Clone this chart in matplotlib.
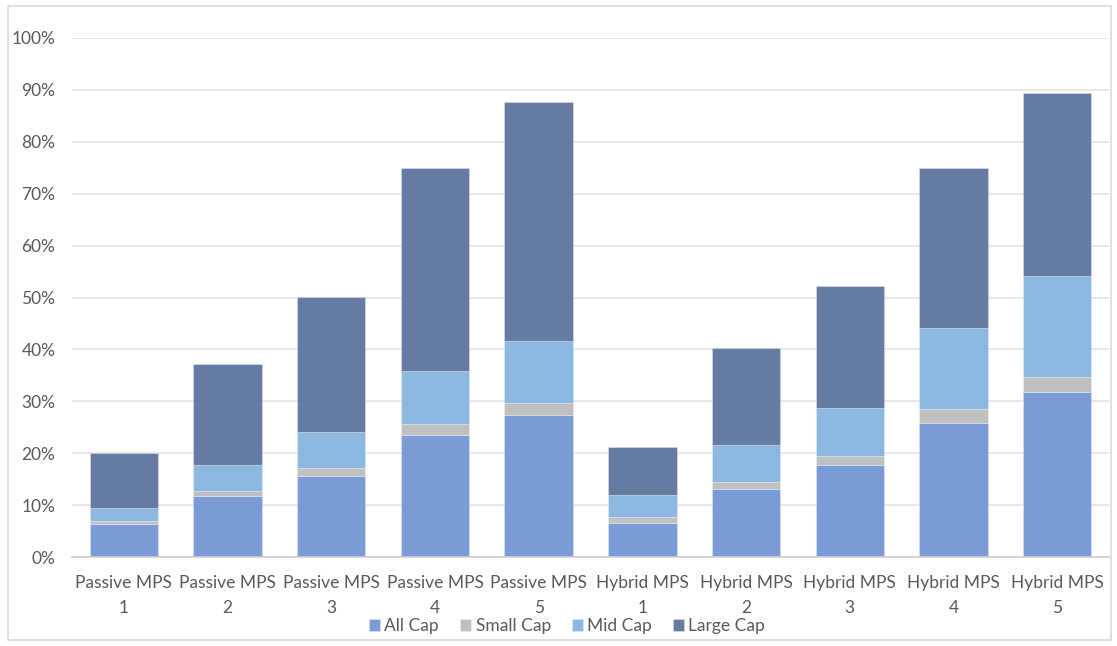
import matplotlib.pyplot as plt
import numpy as np
from matplotlib.patches import Rectangle
from matplotlib.ticker import FuncFormatter

categories = ["Passive MPS\n1", "Passive MPS\n2", "Passive MPS\n3", "Passive MPS\n4", "Passive MPS\n5",
              "Hybrid MPS\n1", "Hybrid MPS\n2", "Hybrid MPS\n3", "Hybrid MPS\n4", "Hybrid MPS\n5"]
all_cap = [6.3, 11.7, 15.7, 23.5, 27.3, 6.6, 13.1, 17.7, 25.9, 31.7]
small_cap = [0.6, 1.0, 1.4, 2.2, 2.3, 1.1, 1.4, 1.8, 2.6, 3.0]
mid_cap = [2.6, 5.0, 6.9, 10.2, 12.1, 4.2, 7.0, 9.2, 15.7, 19.4]
large_cap = [10.5, 19.4, 26.0, 39.1, 46.0, 9.2, 18.8, 23.5, 30.8, 35.3]
series_names = ["All Cap", "Small Cap", "Mid Cap", "Large Cap"]
y_ticks = [0, 10, 20, 30, 40, 50, 60, 70, 80, 90, 100]

colors = ["#7A9BD5", "#C0C0C0", "#8BB7E1", "#667BA1"]
text_color = "#595959"
plt.rcParams['font.family'] = ['Lato', 'DejaVu Sans']

fig = plt.figure(figsize=(11.17, 6.46), dpi=100)
ax = fig.add_axes([72 / 1117, 1 - 557 / 646, (1109 - 72) / 1117, (557 - 38) / 646])

x = np.arange(len(categories))
bottom = np.zeros(len(categories))
for vals, name, col in zip([all_cap, small_cap, mid_cap, large_cap], series_names, colors):
    ax.bar(x, vals, width=0.66, bottom=bottom, color=col, label=name,
           edgecolor=(1, 1, 1, 0.35), linewidth=0.6, zorder=3)
    bottom += np.array(vals)

ax.set_xlim(-0.5, len(categories) - 0.5)
ax.set_ylim(0, 100)
ax.set_yticks(y_ticks)
ax.yaxis.set_major_formatter(FuncFormatter(lambda v, p: f"{v:.0f}%"))
ax.set_xticks(x)
ax.set_xticklabels(categories, linespacing=1.7)
ax.tick_params(axis='both', length=0, colors=text_color, labelsize=12.5)
ax.tick_params(axis='y', pad=12)
ax.tick_params(axis='x', pad=13)
ax.grid(axis='y', color="#E4E4E4", linewidth=1.2, zorder=0)
for s in ["top", "right", "left"]:
    ax.spines[s].set_visible(False)
ax.spines["bottom"].set_color("#D0D0D0")
ax.spines["bottom"].set_linewidth(1.2)
ax.spines["bottom"].set_zorder(4)

leg = fig.legend(loc='center', bbox_to_anchor=(567 / 1117, 1 - 626 / 646), ncol=4,
                 frameon=False, fontsize=12.5, handlelength=0.65, handleheight=0.65,
                 handletextpad=0.25, columnspacing=1.2, labelcolor=text_color)

fig.patches.append(Rectangle((8 / 1117, 6 / 646), 1103 / 1117, 634 / 646,
                             transform=fig.transFigure, fill=False,
                             edgecolor="#D9D9D9", linewidth=1.2))

fig.savefig("out.png", dpi=100)
